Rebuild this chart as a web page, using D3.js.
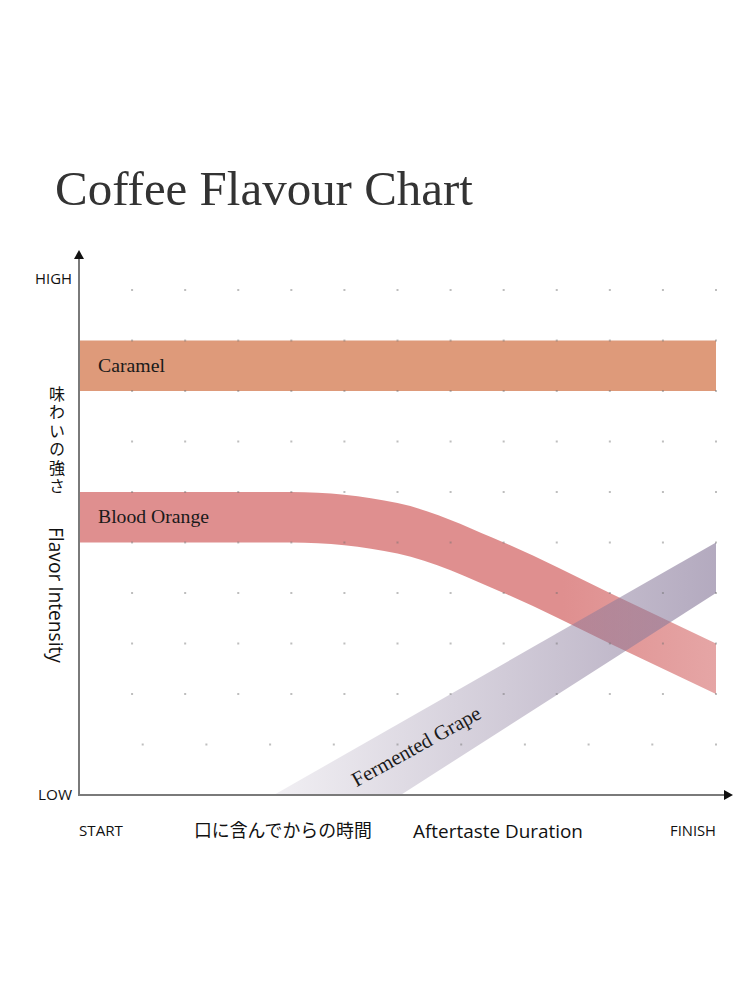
<!DOCTYPE html>
<html>
<head>
<meta charset="utf-8">
<script src="https://cdn.jsdelivr.net/npm/d3@7"></script>
<style>
  html, body { margin: 0; padding: 0; background: #fff; }
  svg { display: block; }
</style>
</head>
<body>
<svg id="chart" width="751" height="1001"></svg>
<script>
// ---------- data ----------
const title = "Coffee Flavour Chart";
const xDomain = [0, 12];
const yDomain = [0, 10];

const caramelX = [0, 12];
const caramelTop = [9, 9];

const orangeX = [0, 4, 6, 8, 10, 12];
const orangeTop = [6, 6, 5.78, 5.0, 4.0, 3.0];

const grapeUpperX = [3.67, 12];
const grapeUpper = [0, 5];
const grapeLowerX = [6.06, 12];
const grapeLower = [0, 4];

const bandThickness = 1;

const seriesNames = ["Caramel", "Blood Orange", "Fermented Grape"];
const yTickLabels = ["LOW", "HIGH"];
const xTickLabels = ["START", "FINISH"];
const yTitleJa = "味わいの強さ";
const yTitleEn = "Flavor Intensity";
const xTitleJa = "口に含んでからの時間";
const xTitleEn = "Aftertaste Duration";

// ---------- layout ----------
const svg = d3.select("#chart");
const x = d3.scaleLinear().domain(xDomain).range([79, 716]);
const y = d3.scaleLinear().domain(yDomain).range([795, 290]);
const xBottomRow = d3.scaleLinear().domain([0, 10]).range([79, 716]);

const serif = "'Liberation Serif', 'DejaVu Serif', serif";
const sans = "'Open Sans', 'Noto Sans', sans-serif";
const cjk = "'Noto Sans CJK JP', sans-serif";

function fit(sel, target) {
  const n = sel.node();
  const fs = parseFloat(sel.attr("font-size"));
  const w = n.getComputedTextLength();
  sel.attr("font-size", (fs * target / w).toFixed(2));
  return sel;
}

const defs = svg.append("defs");

const gg = defs.append("linearGradient").attr("id", "grapeGrad")
  .attr("gradientUnits", "userSpaceOnUse")
  .attr("x1", x(grapeUpperX[0])).attr("x2", x(12)).attr("y1", 0).attr("y2", 0);
gg.append("stop").attr("offset", 0).attr("stop-color", "#897a9b").attr("stop-opacity", 0.12);
gg.append("stop").attr("offset", 1).attr("stop-color", "#897a9b").attr("stop-opacity", 0.64);

const og = defs.append("linearGradient").attr("id", "orangeGrad")
  .attr("gradientUnits", "userSpaceOnUse")
  .attr("x1", x(0)).attr("x2", x(12)).attr("y1", 0).attr("y2", 0);
og.append("stop").attr("offset", 0).attr("stop-color", "#df8f8f").attr("stop-opacity", 1);
og.append("stop").attr("offset", 0.76).attr("stop-color", "#df8f8f").attr("stop-opacity", 1);
og.append("stop").attr("offset", 1).attr("stop-color", "#df8f8f").attr("stop-opacity", 0.8);

// ---------- title ----------
const t = svg.append("text")
  .attr("x", 55).attr("y", 205)
  .attr("font-family", serif).attr("font-size", 44)
  .attr("fill", "#333")
  .text(title);
fit(t, 418);

// ---------- bands ----------
const area = d3.area().x(d => x(d[0])).y0(d => y(d[1] - bandThickness)).y1(d => y(d[1]));

svg.append("path")
  .datum(caramelX.map((v, i) => [v, caramelTop[i]]))
  .attr("d", area)
  .attr("fill", "#de9a7a");

svg.append("path")
  .datum(orangeX.map((v, i) => [v, orangeTop[i]]))
  .attr("d", area.curve(d3.curveMonotoneX))
  .attr("fill", "url(#orangeGrad)");

const grapePoly = [
  ...grapeUpperX.map((v, i) => [v, grapeUpper[i]]),
  ...grapeLowerX.map((v, i) => [v, grapeLower[i]]).reverse()
];
svg.append("path")
  .attr("d", d3.line().x(d => x(d[0])).y(d => y(d[1]))(grapePoly) + "Z")
  .attr("fill", "url(#grapeGrad)");

// ---------- grid dots ----------
const dots = [];
for (let r = 2; r <= 10; r++) for (let c = 0; c <= 12; c++) dots.push([x(c), y(r)]);
for (let c = 0; c <= 10; c++) dots.push([xBottomRow(c), y(1)]);
svg.append("g").selectAll("rect").data(dots).join("rect")
  .attr("x", d => d[0] - 1).attr("y", d => d[1] - 1)
  .attr("width", 2).attr("height", 2)
  .attr("fill", "rgba(110,110,110,0.45)");

// ---------- axes ----------
const axisColor = "#7a7a7a";
svg.append("line")
  .attr("x1", x(0)).attr("x2", x(0))
  .attr("y1", y(0)).attr("y2", y(10) - 32)
  .attr("stroke", axisColor).attr("stroke-width", 2);
svg.append("line")
  .attr("x1", x(0) - 1).attr("x2", x(12) + 9)
  .attr("y1", y(0)).attr("y2", y(0))
  .attr("stroke", axisColor).attr("stroke-width", 2);
const ax = x(0), ay = y(10) - 40;
svg.append("path")
  .attr("d", `M${ax},${ay} L${ax + 5},${ay + 9} L${ax - 5},${ay + 9} Z`)
  .attr("fill", "#111");
const bx = x(12) + 17, by = y(0);
svg.append("path")
  .attr("d", `M${bx},${by} L${bx - 9},${by - 5} L${bx - 9},${by + 5} Z`)
  .attr("fill", "#111");

// ---------- band labels ----------
const lab1 = svg.append("text").attr("x", 98).attr("y", 372)
  .attr("font-family", serif).attr("font-size", 17).attr("fill", "#1a1a1a")
  .text(seriesNames[0]);
fit(lab1, 67);
const lab2 = svg.append("text").attr("x", 98).attr("y", 523)
  .attr("font-family", serif).attr("font-size", 17).attr("fill", "#1a1a1a")
  .text(seriesNames[1]);
fit(lab2, 111);
const lab3 = svg.append("text")
  .attr("transform", "translate(416,746) rotate(-29)")
  .attr("text-anchor", "middle").attr("dy", "0.35em")
  .attr("font-family", serif).attr("font-size", 17).attr("fill", "#1a1a1a")
  .text(seriesNames[2]);
fit(lab3, 144);

// ---------- axis labels ----------
const hi = svg.append("text").attr("x", 72).attr("y", y(10) - 11).attr("dy", "0.35em")
  .attr("text-anchor", "end").attr("font-family", sans).attr("font-size", 13).attr("fill", "#111")
  .text(yTickLabels[1]);
fit(hi, 37);
const lo = svg.append("text").attr("x", 72).attr("y", y(0)).attr("dy", "0.35em")
  .attr("text-anchor", "end").attr("font-family", sans).attr("font-size", 13).attr("fill", "#111")
  .text(yTickLabels[0]);
fit(lo, 34);
const st = svg.append("text").attr("x", x(0)).attr("y", 831).attr("dy", "0.35em")
  .attr("font-family", sans).attr("font-size", 13).attr("fill", "#111")
  .text(xTickLabels[0]);
fit(st, 44);
const fi = svg.append("text").attr("x", x(12)).attr("y", 831).attr("dy", "0.35em")
  .attr("text-anchor", "end").attr("font-family", sans).attr("font-size", 13).attr("fill", "#111")
  .text(xTickLabels[1]);
fit(fi, 46);

const xj = svg.append("text").attr("x", 194).attr("y", 831).attr("dy", "0.35em")
  .attr("font-family", cjk).attr("font-size", 17).attr("fill", "#111")
  .text(xTitleJa);
fit(xj, 178);
const xe = svg.append("text").attr("x", 413).attr("y", 831).attr("dy", "0.35em")
  .attr("font-family", sans).attr("font-size", 17).attr("fill", "#111")
  .text(xTitleEn);
fit(xe, 170);

// vertical Japanese y title (single text, vertical writing mode)
svg.append("text")
  .attr("x", 57).attr("y", 386)
  .attr("font-family", cjk).attr("font-size", 16).attr("fill", "#111")
  .style("writing-mode", "vertical-rl")
  .style("text-orientation", "upright")
  .style("letter-spacing", "2.4px")
  .text(yTitleJa);

const ye = svg.append("text")
  .attr("transform", "translate(56,527) rotate(90)")
  .attr("dy", "0.35em")
  .attr("font-family", sans).attr("font-size", 17).attr("fill", "#111")
  .text(yTitleEn);
fit(ye, 136);
</script>
</body>
</html>
